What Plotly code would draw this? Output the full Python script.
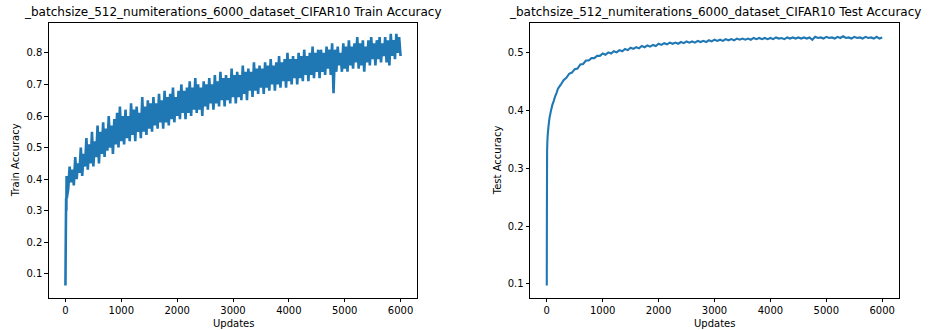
import plotly.graph_objects as go

# ---------------- data ----------------
train_updates = [0, 4, 8, 12, 16, 20, 25] + list(range(50, 6001, 25))
train_accuracy = [
    0.063, 0.17, 0.26, 0.34, 0.30, 0.41, 0.34,
    # 50 .. 525
    0.37, 0.44, 0.39, 0.43, 0.38, 0.47, 0.40, 0.45, 0.42, 0.50,
    0.41, 0.48, 0.44, 0.53, 0.43, 0.51, 0.45, 0.55, 0.44, 0.52,
    # 550 .. 1025
    0.47, 0.57, 0.45, 0.55, 0.48, 0.58, 0.47, 0.56, 0.49, 0.60,
    0.50, 0.57, 0.48, 0.59, 0.51, 0.61, 0.50, 0.63, 0.52, 0.60,
    # 1050 .. 1525
    0.51, 0.62, 0.53, 0.60, 0.52, 0.64, 0.54, 0.62, 0.52, 0.63,
    0.55, 0.61, 0.53, 0.66, 0.55, 0.63, 0.54, 0.65, 0.56, 0.64,
    # 1550 .. 2025
    0.55, 0.66, 0.57, 0.64, 0.56, 0.67, 0.58, 0.65, 0.56, 0.68,
    0.58, 0.66, 0.57, 0.67, 0.59, 0.69, 0.58, 0.66, 0.60, 0.68,
    # 2050 .. 2525
    0.59, 0.70, 0.61, 0.68, 0.59, 0.69, 0.61, 0.71, 0.60, 0.69,
    0.62, 0.72, 0.61, 0.70, 0.62, 0.69, 0.60, 0.71, 0.63, 0.70,
    # 2550 .. 3025
    0.62, 0.72, 0.64, 0.70, 0.62, 0.73, 0.64, 0.71, 0.63, 0.74,
    0.65, 0.72, 0.63, 0.73, 0.65, 0.72, 0.64, 0.75, 0.66, 0.73,
    # 3050 .. 3525
    0.64, 0.74, 0.66, 0.73, 0.65, 0.76, 0.67, 0.74, 0.65, 0.75,
    0.68, 0.74, 0.66, 0.77, 0.68, 0.75, 0.67, 0.76, 0.69, 0.75,
    # 3550 .. 4025
    0.67, 0.77, 0.69, 0.76, 0.68, 0.78, 0.70, 0.76, 0.68, 0.77,
    0.70, 0.79, 0.69, 0.77, 0.71, 0.78, 0.69, 0.80, 0.71, 0.78,
    # 4050 .. 4525
    0.70, 0.79, 0.72, 0.78, 0.70, 0.80, 0.72, 0.79, 0.71, 0.81,
    0.73, 0.79, 0.71, 0.80, 0.73, 0.82, 0.72, 0.80, 0.74, 0.81,
    # 4550 .. 5025
    0.72, 0.81, 0.74, 0.80, 0.73, 0.82, 0.75, 0.81, 0.73, 0.83,
    0.672, 0.81, 0.74, 0.82, 0.76, 0.80, 0.74, 0.83, 0.75, 0.82,
    # 5050 .. 5525
    0.74, 0.84, 0.76, 0.82, 0.75, 0.83, 0.77, 0.85, 0.75, 0.83,
    0.76, 0.84, 0.74, 0.82, 0.77, 0.84, 0.76, 0.85, 0.78, 0.83,
    # 5550 .. 6000
    0.76, 0.84, 0.78, 0.85, 0.77, 0.83, 0.79, 0.85, 0.77, 0.84,
    0.76, 0.86, 0.79, 0.84, 0.78, 0.86, 0.80, 0.85, 0.79,
]

test_updates = [0, 3, 6, 10, 15, 20, 30, 40, 50, 75, 100, 125, 150, 175, 200,
                250, 300, 350, 400, 450, 500, 550, 600, 650, 700, 750, 800,
                850, 900, 950] + list(range(1000, 6001, 50))
test_accuracy = [
    0.097, 0.25, 0.33, 0.345, 0.355, 0.362, 0.372, 0.381, 0.388, 0.400,
    0.410, 0.417, 0.425, 0.431, 0.438, 0.445, 0.453, 0.457, 0.464, 0.466,
    0.472, 0.473, 0.480, 0.481, 0.487, 0.487, 0.491, 0.491, 0.495, 0.495,
    # 1000 .. 1950
    0.499, 0.497, 0.501, 0.499, 0.503, 0.501, 0.505, 0.503, 0.507, 0.505,
    0.509, 0.507, 0.510, 0.508, 0.512, 0.510, 0.513, 0.511, 0.514, 0.512,
    # 2000 .. 2950
    0.516, 0.514, 0.517, 0.515, 0.518, 0.516, 0.518, 0.516, 0.519, 0.517,
    0.520, 0.518, 0.520, 0.518, 0.521, 0.519, 0.521, 0.519, 0.522, 0.520,
    # 3000 .. 3950
    0.523, 0.521, 0.523, 0.521, 0.524, 0.522, 0.524, 0.522, 0.525, 0.523,
    0.525, 0.523, 0.525, 0.523, 0.526, 0.524, 0.526, 0.524, 0.526, 0.524,
    # 4000 .. 4950
    0.526, 0.524, 0.527, 0.525, 0.526, 0.524, 0.527, 0.525, 0.527, 0.525,
    0.527, 0.525, 0.527, 0.525, 0.527, 0.523, 0.528, 0.526, 0.527, 0.525,
    # 5000 .. 5950
    0.528, 0.526, 0.527, 0.525, 0.528, 0.526, 0.529, 0.526, 0.527, 0.525,
    0.528, 0.526, 0.527, 0.525, 0.528, 0.526, 0.527, 0.525, 0.528, 0.525,
    # 6000
    0.527,
]

x_ticks = [0, 1000, 2000, 3000, 4000, 5000, 6000]
train_y_ticks = [0.1, 0.2, 0.3, 0.4, 0.5, 0.6, 0.7, 0.8]
test_y_ticks = [0.1, 0.2, 0.3, 0.4, 0.5]

train_title = "_batchsize_512_numiterations_6000_dataset_CIFAR10 Train Accuracy"
test_title = "_batchsize_512_numiterations_6000_dataset_CIFAR10 Test Accuracy"

# ---------------- figure ----------------
W, H = 930, 330
FONT = "DejaVu Sans"
BLUE = "#1f77b4"

fig = go.Figure()
fig.add_trace(go.Scatter(x=train_updates, y=train_accuracy, mode="lines",
                         line=dict(color=BLUE, width=2.6, simplify=False),
                         xaxis="x", yaxis="y", showlegend=False, hoverinfo="skip"))
fig.add_trace(go.Scatter(x=test_updates, y=test_accuracy, mode="lines",
                         line=dict(color=BLUE, width=2.1, simplify=False),
                         xaxis="x2", yaxis="y2", showlegend=False, hoverinfo="skip"))

left_dom = [48.7 / W, 417.3 / W]
right_dom = [530.0 / W, 899.0 / W]
y_dom = [(H - 297.7) / H, (H - 22.7) / H]

axis_common = dict(
    showline=True, linecolor="black", linewidth=0.8, mirror=True,
    ticks="outside", ticklen=3.5, tickwidth=0.8, tickcolor="black",
    showgrid=False, zeroline=False, automargin=False,
    tickfont=dict(family=FONT, size=10, color="black"),
)

fig.update_layout(
    width=W, height=H,
    margin=dict(l=0, r=0, t=0, b=0),
    paper_bgcolor="white", plot_bgcolor="white",
    font=dict(family=FONT, size=10, color="black"),
    xaxis=dict(domain=left_dom, range=[-300, 6300], tickvals=x_ticks,
               ticktext=[str(v) for v in x_ticks], anchor="y", **axis_common),
    yaxis=dict(domain=y_dom, range=[0.0245, 0.8955], tickvals=train_y_ticks,
               ticktext=[f"{v:.1f}" for v in train_y_ticks], anchor="x", **axis_common),
    xaxis2=dict(domain=right_dom, range=[-300, 6300], tickvals=x_ticks,
                ticktext=[str(v) for v in x_ticks], anchor="y2", **axis_common),
    yaxis2=dict(domain=y_dom, range=[0.0757, 0.5525], tickvals=test_y_ticks,
                ticktext=[f"{v:.1f}" for v in test_y_ticks], anchor="x2", **axis_common),
)

def mid(d):
    return (d[0] + d[1]) / 2

ann = []
ann.append(dict(text=train_title, x=mid(left_dom), y=(H - 12) / H, xref="paper", yref="paper",
                showarrow=False, xanchor="center", yanchor="middle",
                font=dict(family=FONT, size=12, color="black")))
ann.append(dict(text=test_title, x=mid(right_dom), y=(H - 12) / H, xref="paper", yref="paper",
                showarrow=False, xanchor="center", yanchor="middle",
                font=dict(family=FONT, size=12, color="black")))
ann.append(dict(text="Updates", x=mid(left_dom), y=(H - 323) / H, xref="paper", yref="paper",
                showarrow=False, xanchor="center", yanchor="middle",
                font=dict(family=FONT, size=10, color="black")))
ann.append(dict(text="Updates", x=mid(right_dom), y=(H - 323) / H, xref="paper", yref="paper",
                showarrow=False, xanchor="center", yanchor="middle",
                font=dict(family=FONT, size=10, color="black")))
ann.append(dict(text="Train Accuracy", x=15 / W, y=mid(y_dom), xref="paper", yref="paper",
                showarrow=False, xanchor="center", yanchor="middle", textangle=-90,
                font=dict(family=FONT, size=10, color="black")))
ann.append(dict(text="Test Accuracy", x=497 / W, y=mid(y_dom), xref="paper", yref="paper",
                showarrow=False, xanchor="center", yanchor="middle", textangle=-90,
                font=dict(family=FONT, size=10, color="black")))
fig.update_layout(annotations=ann)

fig.write_html("out.html",
               config={"displayModeBar": False},
               post_script="document.body.style.margin='0';document.body.style.overflow='hidden';")
